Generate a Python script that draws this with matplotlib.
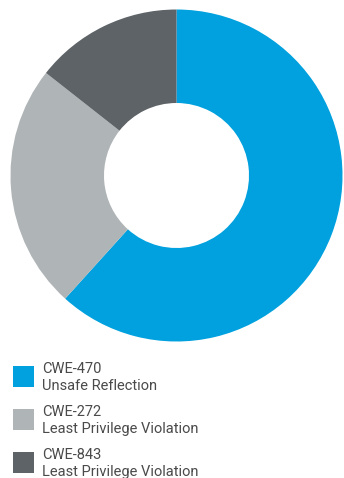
import matplotlib
matplotlib.use("Agg")
import matplotlib.pyplot as plt
from matplotlib.patches import Rectangle
from matplotlib import font_manager

# share of findings per weakness
codes = ["CWE-470", "CWE-272", "CWE-843"]
names = ["Unsafe Reflection", "Least Privilege Violation", "Least Privilege Violation"]
shares = [61.7, 23.9, 14.4]
colors = ["#00A1DE", "#AFB4B6", "#5E6367"]

available = {f.name for f in font_manager.fontManager.ttflist}
font = "Liberation Sans Narrow" if "Liberation Sans Narrow" in available else "Roboto"
plt.rcParams["font.family"] = [font, "DejaVu Sans"]

W, H = 344, 478
fig = plt.figure(figsize=(W / 100, H / 100), dpi=100)

# donut, centred at (176.5, 175.5) px with outer radius 166 px
cx, cy, r = 176.5, 175.5, 166
ax = fig.add_axes([(cx - r) / W, (H - cy - r) / H, 2 * r / W, 2 * r / H])
ax.pie(shares, colors=colors, startangle=90, counterclock=False,
       wedgeprops=dict(width=1 - 72.5 / 166, linewidth=0))
ax.set_aspect("equal")
ax.set_xlim(-1, 1)
ax.set_ylim(-1, 1)

# legend drawn in pixel coordinates
for i, (code, name, c) in enumerate(zip(codes, names, colors)):
    top = 366 + i * 43
    fig.add_artist(Rectangle((13 / W, 1 - (top + 21) / H), 21 / W, 21 / H,
                             transform=fig.transFigure, color=c, lw=0))
    fig.text(42 / W, 1 - (top + 7) / H, code, fontsize=10.5, color="#4a4a4a",
             va="baseline", ha="left")
    fig.text(42 / W, 1 - (top + 24) / H, name, fontsize=10.5, color="#4a4a4a",
             va="baseline", ha="left")

fig.savefig("out.png", dpi=100)
